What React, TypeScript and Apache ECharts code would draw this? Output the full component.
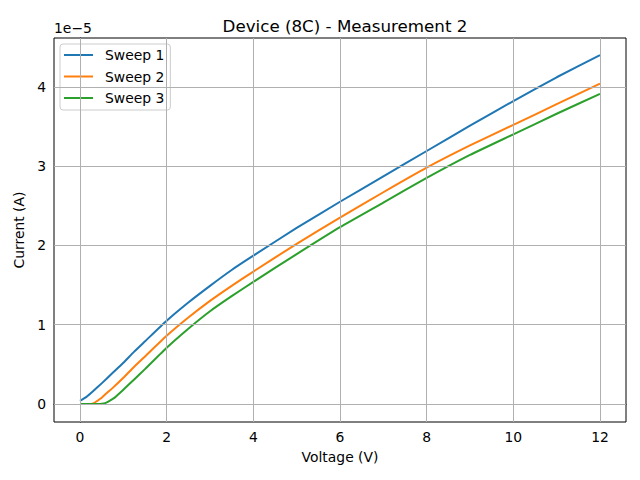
import React, { useEffect, useRef } from "react";
import * as echarts from "echarts";

const xTicks = [0, 2, 4, 6, 8, 10, 12];
const yTicks = [0, 1, 2, 3, 4];

const sweep1X = [0, 0.15, 0.3, 0.5, 0.75, 1, 1.25, 1.5, 2, 2.5, 3, 3.5, 4, 5, 6, 7, 8, 9, 10, 11, 12];
const sweep1Y = [0.04, 0.09, 0.16, 0.26, 0.39, 0.52, 0.66, 0.79, 1.05, 1.28, 1.49, 1.69, 1.87, 2.22, 2.55, 2.87, 3.19, 3.51, 3.82, 4.12, 4.4];

const sweep2X = [0, 0.25, 0.32, 0.4, 0.5, 0.62, 0.75, 1, 1.25, 1.5, 2, 2.5, 3, 3.5, 4, 5, 6, 7, 8, 9, 10, 11, 12];
const sweep2Y = [0, 0, 0.01, 0.04, 0.08, 0.14, 0.2, 0.33, 0.47, 0.6, 0.86, 1.09, 1.3, 1.49, 1.67, 2.02, 2.35, 2.67, 2.98, 3.26, 3.52, 3.78, 4.04];

const sweep3X = [0, 0.45, 0.55, 0.62, 0.7, 0.8, 0.9, 1, 1.25, 1.5, 2, 2.5, 3, 3.5, 4, 5, 6, 7, 8, 9, 10, 11, 12];
const sweep3Y = [0, 0, 0.005, 0.02, 0.045, 0.08, 0.13, 0.18, 0.31, 0.44, 0.71, 0.95, 1.17, 1.36, 1.54, 1.89, 2.23, 2.54, 2.85, 3.14, 3.4, 3.66, 3.91];

const seriesNames = ["Sweep 1", "Sweep 2", "Sweep 3"];
const colors = ["#1f77b4", "#ff7f0e", "#2ca02c"];

const FONT = "DejaVu Sans";

export default function App() {
  const ref = useRef<HTMLDivElement>(null);
  useEffect(() => {
    if (!ref.current) return;
    const chart = echarts.init(ref.current, undefined, { renderer: "svg" });
    const pairs = [
      [sweep1X, sweep1Y],
      [sweep2X, sweep2Y],
      [sweep3X, sweep3Y],
    ];
    const lineSeries = pairs.map(([xs, ys], i) => ({
      type: "line",
      name: seriesNames[i],
      data: xs.map((x, j) => [x, ys[j]]),
      showSymbol: false,
      symbol: "none",
      smooth: 0.15,
      z: 3,
      lineStyle: { color: colors[i], width: 2, join: "round" },
      itemStyle: { color: colors[i] },
    }));
    const gridSeries = {
      type: "line",
      name: "grid",
      data: [],
      z: 1,
      silent: true,
      markLine: {
        silent: true,
        symbol: "none",
        label: { show: false },
        lineStyle: { color: "#b0b0b0", width: 1, type: "solid" },
        data: [
          ...xTicks.map((v) => ({ xAxis: v })),
          ...yTicks.map((v) => ({ yAxis: v })),
        ],
      },
    };
    chart.setOption({
      animation: false,
      backgroundColor: "#ffffff",
      textStyle: { fontFamily: FONT },
      title: {
        text: "Device (8C) - Measurement 2",
        left: 340,
        top: 12,
        textAlign: "center",
        textStyle: { fontFamily: FONT, fontSize: 16.7, fontWeight: "normal", color: "#000" },
      },
      legend: {
        data: seriesNames,
        left: 60,
        top: 44,
        orient: "vertical",
        icon: "rect",
        itemWidth: 29,
        itemHeight: 2,
        itemGap: 7.5,
        padding: [4, 6, 5, 4],
        backgroundColor: "rgba(255,255,255,0.8)",
        borderColor: "#cccccc",
        borderWidth: 1,
        borderRadius: 3,
        textStyle: { fontFamily: FONT, fontSize: 13.9, lineHeight: 14, color: "#000", padding: [0, 0, 0, 7] },
      },
      grid: {
        left: 54,
        right: 14,
        top: 38,
        bottom: 58,
        show: true,
        borderColor: "#000",
        borderWidth: 1,
        backgroundColor: "transparent",
      },
      xAxis: {
        type: "value",
        min: -0.6,
        max: 12.6,
        name: "Voltage (V)",
        nameLocation: "middle",
        nameGap: 28,
        nameTextStyle: { fontFamily: FONT, fontSize: 13.9, color: "#000" },
        axisLine: { show: true, lineStyle: { color: "#000", width: 1 } },
        axisTick: { show: true, length: 5, inside: false, customValues: xTicks, lineStyle: { color: "#000" } },
        axisLabel: { customValues: xTicks, fontFamily: FONT, fontSize: 13.9, color: "#000", margin: 8 },
        splitLine: { show: false },
      },
      yAxis: {
        type: "value",
        min: -0.227,
        max: 4.615,
        name: "Current (A)",
        nameLocation: "middle",
        nameGap: 23,
        nameTextStyle: { fontFamily: FONT, fontSize: 13.9, color: "#000" },
        axisLine: { show: true, lineStyle: { color: "#000", width: 1 } },
        axisTick: { show: true, length: 5, inside: false, customValues: yTicks, lineStyle: { color: "#000" } },
        axisLabel: { customValues: yTicks, fontFamily: FONT, fontSize: 13.9, color: "#000", margin: 8 },
        splitLine: { show: false },
      },
      graphic: [
        {
          type: "text",
          left: 54,
          top: 21,
          style: { text: "1e\u22125", font: `13.9px "${FONT}"`, fill: "#000" },
        },
      ],
      series: [gridSeries, ...lineSeries],
    });
    return () => chart.dispose();
  }, []);
  return <div ref={ref} style={{ width: 640, height: 480, position: "absolute", left: 0, top: 0 }} />;
}
